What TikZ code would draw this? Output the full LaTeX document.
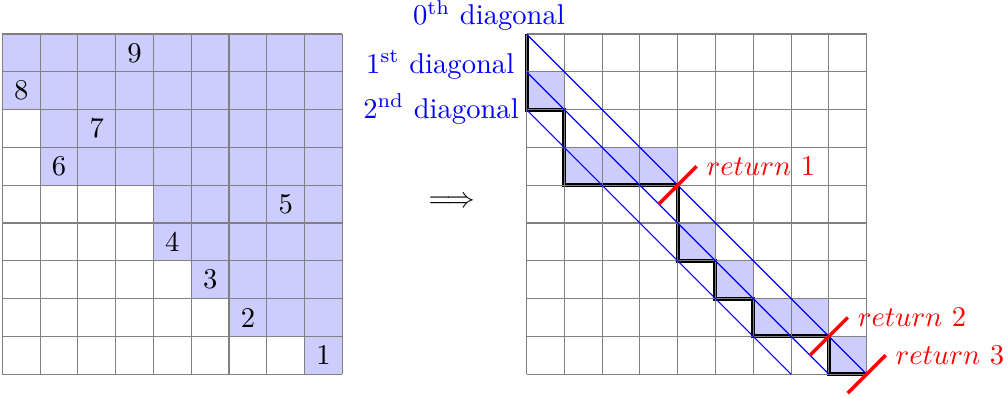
\documentclass[tikz,border=0pt]{standalone}
\usepackage{tikz}
\begin{document}
\begin{tikzpicture}[x=0.4643cm,y=0.4643cm,
  gridline/.style={gray,line width=0.4pt},
  cellfill/.style={fill=blue!20},
  numlabel/.style={inner sep=0pt},
  diagline/.style={blue,line width=0.4pt},
  pathline/.style={black,line width=1.4pt},
  retline/.style={red,line width=1.2pt},
  retlabel/.style={red,right,inner sep=3.33pt},
  diaglabel/.style={blue,anchor=base east,inner sep=0pt}]
\useasboundingbox (-0.061,-0.627) rectangle (26.61,9.90);
% ---------- left grid ----------
\fill[cellfill] (0,9) -- (9,9) -- (9,0) -- (8,0) -- (8,1) -- (6,1) -- (6,2) -- (5,2) -- (5,3) -- (4,3) -- (4,5) -- (1,5) -- (1,7) -- (0,7) -- cycle;
\draw[gridline] (0,0) grid[step=0.4643cm] (9,9);
\node[numlabel] (n9) at (3.5,8.5) {9};
\node[numlabel] (n8) at (0.5,7.5) {8};
\node[numlabel] (n7) at (2.5,6.5) {7};
\node[numlabel] (n6) at (1.5,5.5) {6};
\node[numlabel] (n5) at (7.5,4.5) {5};
\node[numlabel] (n4) at (4.5,3.5) {4};
\node[numlabel] (n3) at (5.5,2.5) {3};
\node[numlabel] (n2) at (6.5,1.5) {2};
\node[numlabel] (n1) at (8.5,0.5) {1};
% ---------- arrow ----------
\node (arr) at (11.89,4.54) {$\Longrightarrow$};
% ---------- right grid ----------
\begin{scope}[shift={(13.87,0)}]
\fill[cellfill] (0,7) rectangle (1,8);
\fill[cellfill] (1,5) rectangle (4,6);
\fill[cellfill] (4,3) rectangle (5,4);
\fill[cellfill] (5,2) rectangle (6,3);
\fill[cellfill] (6,1) rectangle (8,2);
\fill[cellfill] (8,0) rectangle (9,1);
\draw[pathline] (0,9) -- (0,7) -- (1,7) -- (1,5) -- (4,5) -- (4,3) -- (5,3) -- (5,2) -- (6,2) -- (6,1) -- (8,1) -- (8,0) -- (9,0);
\draw[gridline] (0,0) grid[step=0.4643cm] (9,9);
\draw[diagline] (0,9) -- (9,0);
\draw[diagline] (0,8) -- (8,0);
\draw[diagline] (0,7) -- (7,0);
\node[diaglabel] (d0) at (1.03,9.24) {0\textsuperscript{th} diagonal};
\node[diaglabel] (d1) at (-0.31,7.96) {1\textsuperscript{st} diagonal};
\node[diaglabel] (d2) at (-0.19,6.77) {2\textsuperscript{nd} diagonal};
\coordinate (r1a) at (3.5,4.5);
\coordinate (r1b) at (4.5,5.5);
\coordinate (r2a) at (7.5,0.5);
\coordinate (r2b) at (8.5,1.5);
\coordinate (r3a) at (8.5,-0.5);
\coordinate (r3b) at (9.5,0.5);
\draw[retline] (r1a) -- (r1b);
\draw[retline] (r2a) -- (r2b);
\draw[retline] (r3a) -- (r3b);
\node[retlabel] (t1) at (r1b) {$return~1$};
\node[retlabel] (t2) at (r2b) {$return~2$};
\node[retlabel] (t3) at (r3b) {$return~3$};
\end{scope}
\end{tikzpicture}
\end{document}
